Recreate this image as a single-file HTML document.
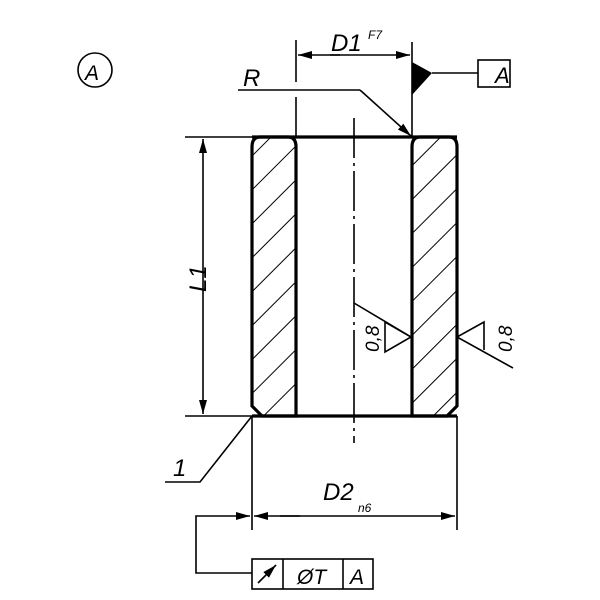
<!DOCTYPE html>
<html><head><style>body{margin:0;background:#fff}svg{display:block}text{font-family:"Liberation Sans",sans-serif;font-style:italic;fill:#000}</style></head>
<body>
<svg width="600" height="600" viewBox="0 0 600 600">
<defs>
<pattern id="h2" patternUnits="userSpaceOnUse" width="24" height="24" patternTransform="rotate(45)">
<line x1="0" y1="0" x2="0" y2="24" stroke="#000" stroke-width="2"/>
</pattern>
<marker id="a" markerWidth="14" markerHeight="8" refX="14" refY="4" orient="auto" markerUnits="userSpaceOnUse"><path d="M0,0 L14,4 L0,8 Z"/></marker>
</defs>
<circle cx="95" cy="70" r="17" fill="none" stroke="#000" stroke-width="1.6"/>
<text x="85" y="80" font-size="21">A</text>
<path d="M260,137 L288,137 Q296,137 296,147 L296,416 L262,416 L252,406 L252,147 Q252,137 260,137 Z" fill="url(#h2)" stroke="#000" stroke-width="3.2"/>
<path d="M420,137 L449,137 Q457,137 457,147 L457,406 L447,416 L412,416 L412,147 Q412,137 420,137 Z" fill="url(#h2)" stroke="#000" stroke-width="3.2"/>
<line x1="252" y1="137" x2="457" y2="137" stroke="#000" stroke-width="3.2"/>
<line x1="252" y1="416" x2="457" y2="416" stroke="#000" stroke-width="3.2"/>
<g stroke="#000" stroke-width="1.6" fill="none">
<line x1="354" y1="118" x2="354" y2="443" stroke-dasharray="40,5,3,5"/>
<line x1="185" y1="137" x2="252" y2="137"/>
<line x1="185" y1="416" x2="252" y2="416"/>
<line x1="203" y1="180" x2="203" y2="414" marker-end="url(#a)"/>
<line x1="203" y1="180" x2="203" y2="139" marker-end="url(#a)"/>
<line x1="296" y1="40" x2="296" y2="82"/><line x1="296" y1="97" x2="296" y2="137"/>
<line x1="412" y1="42" x2="412" y2="137"/>
<line x1="340" y1="55" x2="298" y2="55" marker-end="url(#a)"/>
<line x1="330" y1="55" x2="410" y2="55" marker-end="url(#a)"/>
<line x1="238" y1="90" x2="360" y2="90"/>
<line x1="360" y1="90" x2="411" y2="136" marker-end="url(#a)"/>
<line x1="432" y1="73" x2="478" y2="73"/>
<rect x="478" y="60" width="32" height="27"/>
<polyline points="354,303 411,337 385,352 385,322 411,337"/>
<polyline points="513,368 457,337 484,322 484,350"/>
<polyline points="252,416 200,482 165,482"/>
<line x1="252" y1="416" x2="252" y2="530"/>
<line x1="457" y1="416" x2="457" y2="530"/>
<line x1="300" y1="516" x2="254" y2="516" marker-end="url(#a)"/>
<line x1="280" y1="516" x2="455" y2="516" marker-end="url(#a)"/>
<polyline points="252,573 196,573 196,516 250,516" marker-end="url(#a)"/>
<rect x="252" y="559" width="121" height="30"/>
<line x1="283" y1="559" x2="283" y2="589"/><line x1="343" y1="559" x2="343" y2="589"/>
<line x1="258" y1="583" x2="276" y2="565" marker-end="url(#a)"/>
</g>
<path d="M412,62 L432,73 L412,95 Z"/>
<text x="331" y="51" font-size="24">D1</text><text x="368" y="39" font-size="12">F7</text>
<text x="243" y="86" font-size="24">R</text>
<text x="495" y="83" font-size="22">A</text>
<text transform="translate(206,292) rotate(-90)" font-size="24">L1</text>
<text transform="translate(379,352) rotate(-90)" font-size="19">0,8</text>
<text transform="translate(512,352) rotate(-90)" font-size="19">0,8</text>
<text x="173" y="476" font-size="24">1</text>
<text x="323" y="500" font-size="24">D2</text><text x="358" y="512" font-size="12">n6</text>
<text x="297" y="584" font-size="21">ØT</text>
<text x="350" y="584" font-size="21">A</text>
</svg>
</body></html>
